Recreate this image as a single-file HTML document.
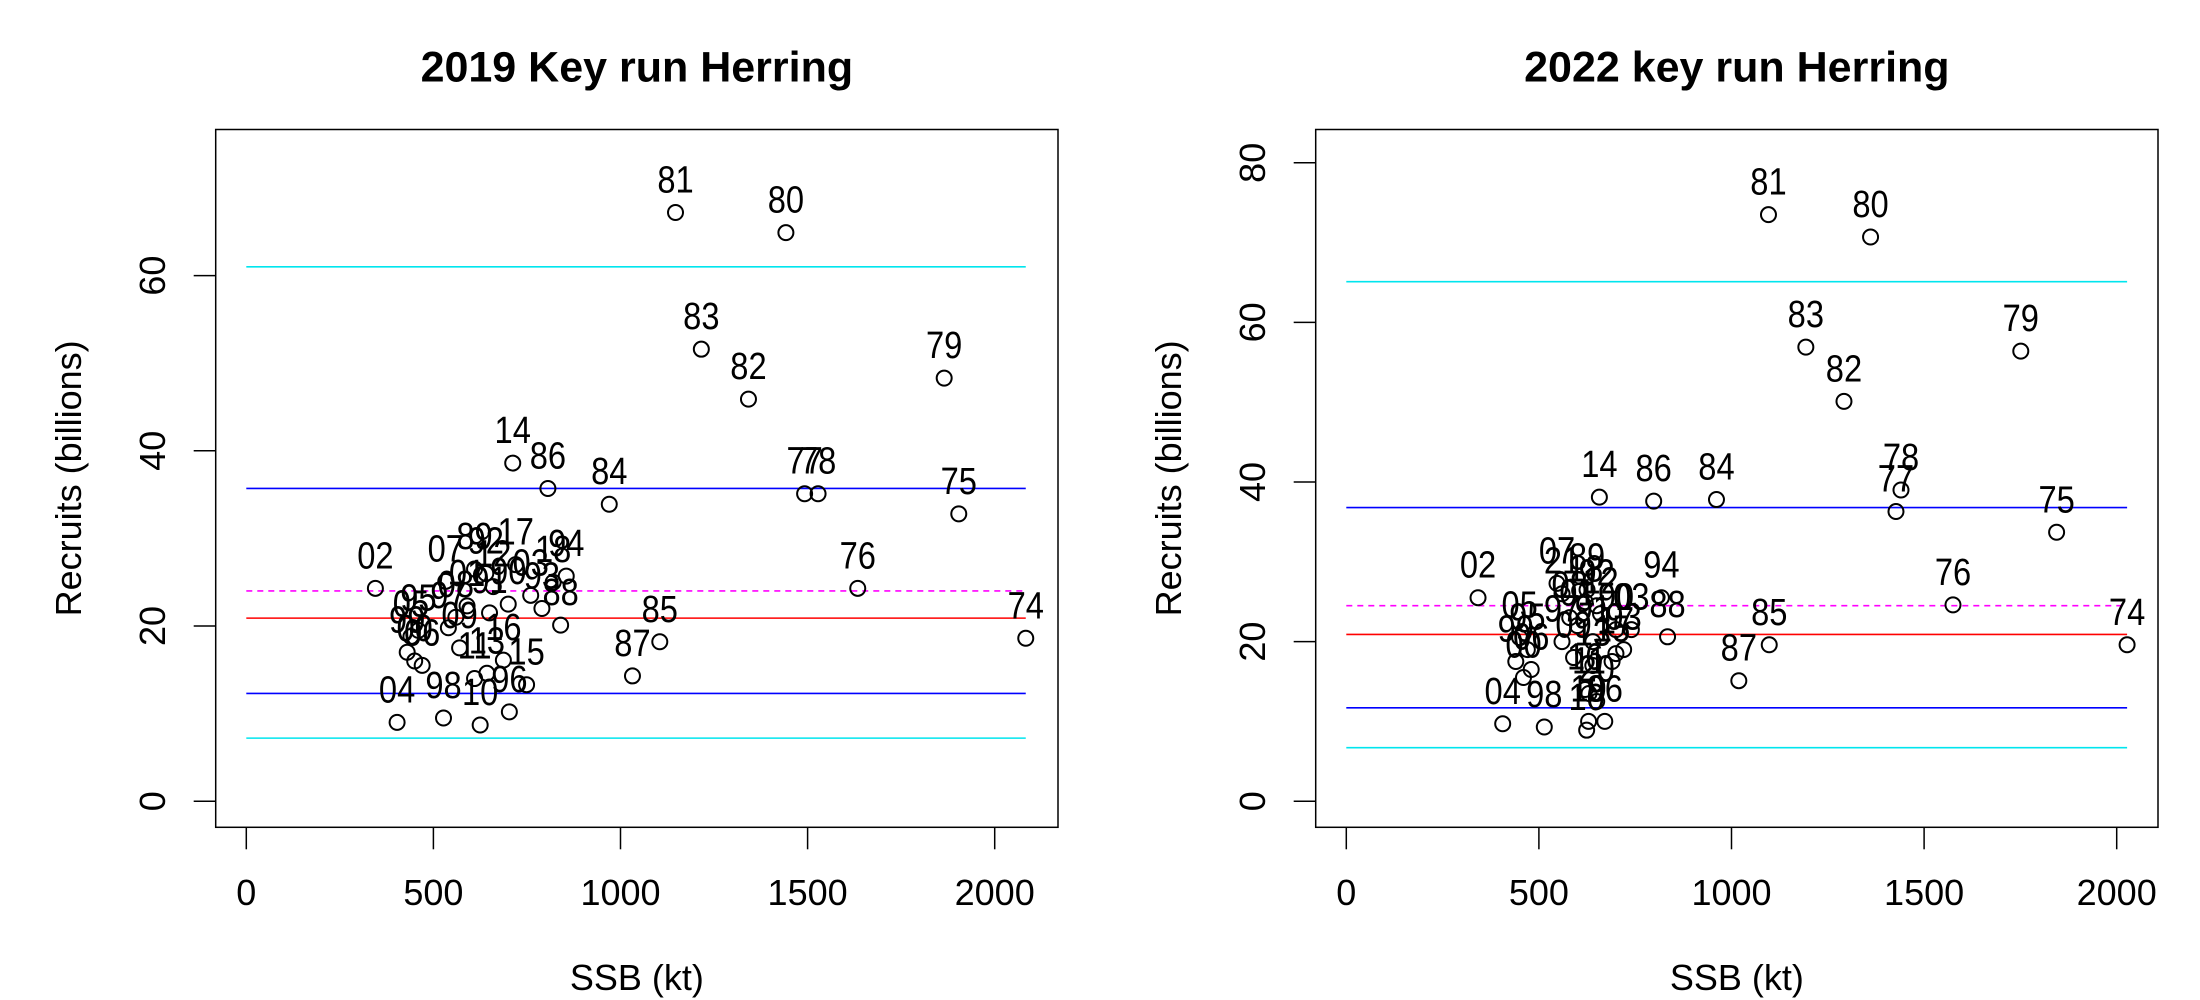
<!DOCTYPE html>
<html><head><meta charset="utf-8"><title>Herring stock-recruit</title>
<style>
html,body{margin:0;padding:0;background:#fff;}
svg{display:block;font-family:"Liberation Sans",Arial,sans-serif;}
</style></head>
<body>
<svg id="chart" width="2200" height="1000" viewBox="0 0 2200 1000" xmlns="http://www.w3.org/2000/svg">
<rect width="2200" height="1000" fill="#fff"/>
</svg>
<script>
// ---- Panel 1 data (2019 key run) ----
const years1 = ["74","75","76","77","78","79","80","81","82","83","84","85","86","87","88","89","90","91","92","93","94","95","96","97","98","99","00","01","02","03","04","05","06","07","08","09","10","11","12","13","14","15","16","17","18"];
const ssb1 = [2083,1904,1634,1492,1528,1865,1442,1147,1342,1216,970,1105,806,1032,840,610,700,650,640,790,855,460,703,540,527,430,450,590,345,760,403,440,470,533,560,570,625,610,660,643,712,749,687,720,820];
const rec1 = [18.6,32.8,24.3,35.1,35.1,48.3,64.9,67.2,45.9,51.6,33.9,18.2,35.7,14.3,20.1,26.5,22.5,21.5,26.0,22.0,25.7,19.5,10.2,19.8,9.5,17.0,16.0,22.3,24.3,23.5,9.0,18.8,15.5,25.1,21.0,17.5,8.7,14.0,24.5,14.6,38.6,13.3,16.1,27.0,25.0];
const refVals1 = [61.0,35.7,24.0,20.9,12.3,7.2];

// ---- Panel 2 data (2022 key run) ----
const years2 = ["74","75","76","77","78","79","80","81","82","83","84","85","86","87","88","89","90","91","92","93","94","95","96","97","98","99","00","01","02","03","04","05","06","07","08","09","10","11","12","13","14","15","16","17","18","19","20","21"];
const ssb2 = [2027,1844,1575,1427,1440,1751,1361,1096,1292,1193,961,1098,798,1019,834,625,700,640,650,720,818,470,671,560,514,440,460,600,342,740,406,450,480,547,580,590,624,630,660,640,657,690,620,700,620,629,650,560];
const rec2 = [19.6,33.7,24.6,36.3,39.0,56.4,70.7,73.5,50.1,56.9,37.8,19.6,37.6,15.1,20.6,26.5,21.5,20.0,24.5,19.0,25.5,19.0,10.0,20.0,9.3,17.5,15.5,22.0,25.5,21.5,9.7,20.5,16.5,27.3,23.0,18.0,8.9,13.5,23.5,17.0,38.1,17.5,14.0,18.5,25.0,10.0,12.5,26.0];
const refVals2 = [65.1,36.8,24.5,20.9,11.7,6.7];

const refColors = ["#00e5ee","#0000ff","#ff00ff","#ff0000","#0000ff","#00e5ee"];
const refDash = [false,false,true,false,false,false];
const xTicks = [0,500,1000,1500,2000];
const yTicks1 = [0,20,40,60];
const yTicks2 = [0,20,40,60,80];

const NS = "http://www.w3.org/2000/svg";
const svg = document.getElementById("chart");
function mk(tag, attrs, parent){
  const e = document.createElementNS(NS, tag);
  for (const k in attrs) e.setAttribute(k, attrs[k]);
  (parent||svg).appendChild(e);
  return e;
}

function panel(ox, title, years, ssb, rec, refVals, yTicks, yPerUnit, xs, x0off, key){
  const g = mk("g", {});
  
  
  const boxL = ox + 215.7, boxR = ox + 1058, boxT = 129.5, boxB = 827.3;
  const x0 = ox + x0off;
  const y0 = 801.2;
  const X = v => x0 + v * xs;
  const Y = v => y0 - v * yPerUnit;

  const t = mk("text", {x:(boxL+boxR)/2, y:81.5, "text-anchor":"middle", "font-size":"43", "font-weight":"bold", fill:"#000"}, g);
  t.textContent = title;
  
  

  const box = mk("rect", {x:boxL, y:boxT, width:boxR-boxL, height:boxB-boxT, fill:"none", stroke:"#000", "stroke-width":"1.5"}, g);
  
  

  const xa = mk("g", {}, g);
  
  
  xTicks.forEach(v => {
    const tl = mk("line", {x1:X(v), x2:X(v), y1:boxB, y2:boxB+22, stroke:"#000", "stroke-width":"1.5"}, xa);
    
    
    const tx = mk("text", {x:X(v), y:905, "text-anchor":"middle", "font-size":"36", fill:"#000"}, xa);
    tx.textContent = v;
    
    
  });
  const xt = mk("text", {x:(boxL+boxR)/2, y:990, "text-anchor":"middle", "font-size":"36", fill:"#000"}, g);
  xt.textContent = "SSB (kt)";
  
  

  const ya = mk("g", {}, g);
  
  
  yTicks.forEach(v => {
    const tl = mk("line", {x1:boxL-22, x2:boxL, y1:Y(v), y2:Y(v), stroke:"#000", "stroke-width":"1.5"}, ya);
    
    
    const tx = mk("text", {x:0, y:0, "text-anchor":"middle", "font-size":"36", fill:"#000", transform:`translate(${ox+165},${Y(v)}) rotate(-90)`}, ya);
    tx.textContent = v;
    
    
  });
  const yt = mk("text", {x:0, y:0, "text-anchor":"middle", "font-size":"36", fill:"#000", transform:`translate(${ox+81},${(boxT+boxB)/2}) rotate(-90)`}, g);
  yt.textContent = "Recruits (billions)";
  
  

  const xmax = Math.max(...ssb);
  refVals.forEach((v,i) => {
    const l = mk("line", {x1:X(0), x2:X(xmax), y1:Y(v), y2:Y(v), stroke:refColors[i], "stroke-width":"1.6"}, g);
    if (refDash[i]) l.setAttribute("stroke-dasharray","6,5");
    
    
  });

  const pg = mk("g", {}, g);
  
  
  years.forEach((yr,i) => {
    const c = mk("circle", {cx:X(ssb[i]), cy:Y(rec[i]), r:7.5, fill:"none", stroke:"#000", "stroke-width":"2"}, pg);
    
    
  });
  years.forEach((yr,i) => {
    const tx = mk("text", {x:0, y:0, "text-anchor":"middle", "font-size":"38", fill:"#000",
      transform:`translate(${X(ssb[i])},${Y(rec[i]) - 20}) scale(0.86,1)`}, pg);
    tx.textContent = yr;
    
    
  });
}

panel(0, "2019 Key run Herring", years1, ssb1, rec1, refVals1, yTicks1, 8.76, 0.3742, 246.3, "left");
panel(1100, "2022 key run Herring", years2, ssb2, rec2, refVals2, yTicks2, 7.98, 0.3852, 246.3, "right");
</script>
</body></html>
